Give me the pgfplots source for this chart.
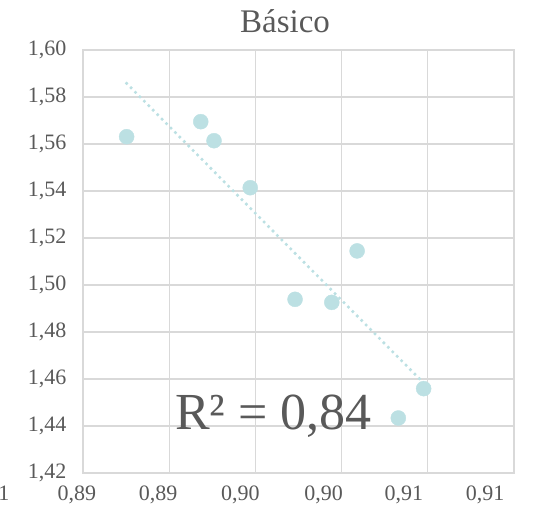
\documentclass[border=0pt]{standalone}
\usepackage{fontspec}
\setmainfont{Liberation Serif}
\usepackage{pgfplots}
\pgfplotsset{compat=1.18}
\usetikzlibrary{calc}
\definecolor{pt}{HTML}{BCE0E3}
\definecolor{gr}{HTML}{D9D9D9}
\definecolor{tx}{HTML}{595959}
\begin{document}
\begin{tikzpicture}
\begin{axis}[name=ax, scale only axis, width=431pt, height=423pt,
  xmin=0.885, xmax=0.910, ymin=1.42, ymax=1.60,
  xtick={0.885,0.890,0.895,0.900,0.905,0.910},
  ytick={1.42,1.44,1.46,1.48,1.50,1.52,1.54,1.56,1.58,1.60},
  xticklabels={},
  grid=major, major grid style={gr, line width=1.3pt},
  axis line style={gr, line width=1.3pt},
  tick style={draw=none},
  yticklabel style={font=\fontsize{22}{26}\selectfont, text=tx, xshift=-13pt},
  /pgf/number format/.cd, fixed, fixed zerofill, precision=2, use comma, assume math mode=true,
  /pgfplots/.cd, clip=false]
\addplot[pt, only marks, mark=*, mark size=7.5pt, mark options={fill=pt, draw=pt}] coordinates {
(0.88753,1.5631) (0.89183,1.5695) (0.8926,1.5614) (0.8947,1.5414) (0.9009,1.5145)
(0.8973,1.4939) (0.89943,1.4926) (0.90476,1.4559) (0.90329,1.4434)};
\addplot[pt, line width=3.6pt, dash pattern=on 0pt off 6.3pt, line cap=round] coordinates {(0.88753,1.5858) (0.90476,1.4583)};
\begin{scope}[every node/.style={font=\fontsize{22}{26}\selectfont, text=tx, anchor=north, inner sep=0pt, yshift=-13pt}]
\node[xshift=-79pt] at (axis cs:0.885,1.42) {1};
\node[xshift=-6pt] at (axis cs:0.885,1.42) {0,89};
\node[xshift=-11pt] at (axis cs:0.890,1.42) {0,89};
\node[xshift=-15pt] at (axis cs:0.895,1.42) {0,90};
\node[xshift=-18pt] at (axis cs:0.900,1.42) {0,90};
\node[xshift=-24pt] at (axis cs:0.905,1.42) {0,91};
\node[xshift=-29pt] at (axis cs:0.910,1.42) {0,91};
\end{scope}
\end{axis}
\node[anchor=base, text=tx, font=\fontsize{33}{38}\selectfont, inner sep=0pt] at ($(ax.north west)+(202pt,17pt)$) {Básico};
\node[anchor=base west, text=tx, font=\fontsize{52}{58}\selectfont, inner sep=0pt] at ($(ax.south west)+(92pt,43pt)$) {R² = 0,84};
\pgfresetboundingbox
\path[use as bounding box] ($(ax.south west)+(-83pt,-43pt)$) rectangle ($(ax.north east)+(39pt,50pt)$);
\end{tikzpicture}
\end{document}
